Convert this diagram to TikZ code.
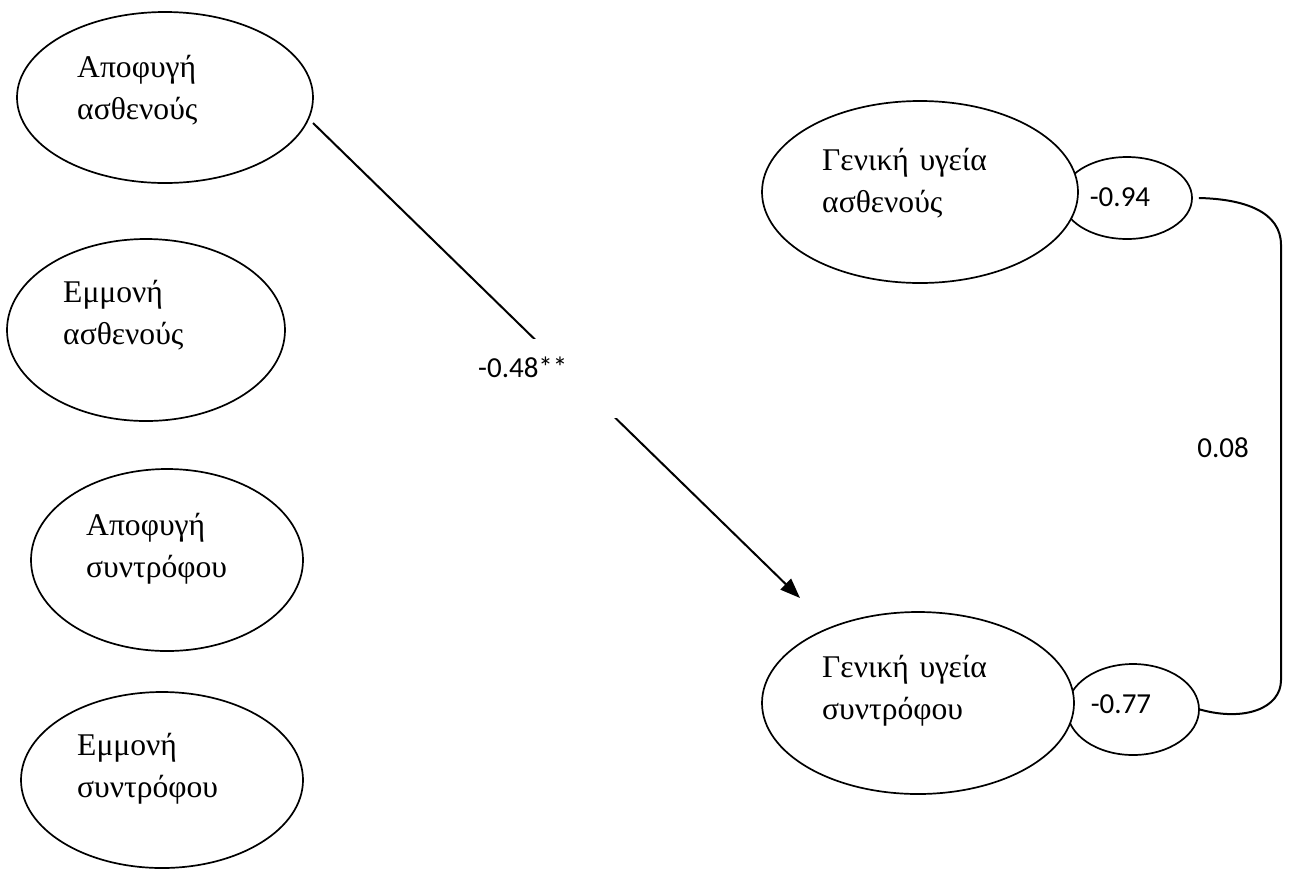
\documentclass[tikz,border=0pt]{standalone}
\usepackage{fontspec}
\setmainfont{Liberation Serif}
\newfontfamily\labelfont{Carlito}
\usetikzlibrary{arrows.meta,shapes.geometric}
\begin{document}
\begin{tikzpicture}[x=1pt,y=-1pt,
  construct/.style={shape=ellipse, draw, line width=1.7pt, fill=white, inner sep=0pt},
  resid/.style={shape=ellipse, draw, line width=1.7pt, fill=white, inner sep=0pt},
  ctext/.style={anchor=base west, inner sep=0pt, text width=220pt, align=left,
    font=\fontsize{31.6}{42}\selectfont},
  num/.style={inner sep=0pt, font=\labelfont\fontsize{29}{34}\selectfont},
  path/.style={line width=2pt, -{Triangle[length=20pt,width=15pt]}},
  link/.style={line width=2pt}
]
\useasboundingbox (0,0) rectangle (1289,871);

% latent variables on the left
\node[construct, minimum width=296pt, minimum height=171pt] (avP) at (165,97.5) {};
\node[construct, minimum width=278pt, minimum height=182pt] (anP) at (146,330) {};
\node[construct, minimum width=272pt, minimum height=182pt] (avS) at (167,560) {};
\node[construct, minimum width=282pt, minimum height=176pt] (anS) at (162,780) {};

% residual terms, drawn first so the outcome ellipses cover them
\node[resid, minimum width=130pt, minimum height=82pt] (rP) at (1127,198) {};
\node[resid, minimum width=132pt, minimum height=91pt] (rS) at (1133,709.5) {};

% outcome variables on the right
\node[construct, minimum width=316pt, minimum height=182pt] (ghP) at (920,192) {};
\node[construct, minimum width=312pt, minimum height=182pt] (ghS) at (918,703) {};

% labels inside the ellipses
\node[ctext] (tavP) at (77,77) {Αποφυγή\\ασθενούς};
\node[ctext] (tanP) at (63,302) {Εμμονή\\ασθενούς};
\node[ctext] (tavS) at (86,535) {Αποφυγή\\συντρόφου};
\node[ctext] (tanS) at (77,755) {Εμμονή\\συντρόφου};
\node[ctext] (tghP) at (822,170) {Γενική υγεία\\ασθενούς};
\node[ctext] (tghS) at (822,677) {Γενική υγεία\\συντρόφου};

\node[num, anchor=base] (nrP) at (1120,206) {-0.94};
\node[num, anchor=base] (nrS) at (1121,713) {-0.77};

% regression path with its coefficient
\coordinate (pathStart) at (313,123);
\coordinate (pathEnd) at (800,598);
\draw[path] (pathStart) -- (pathEnd);
\node[fill=white, inner sep=0pt, minimum width=152pt, minimum height=79pt] (coefBox) at (546,378.5) {};
\node[num, anchor=base west] (coef) at (478,377) {-0.48**};

% covariance between the residuals
\draw[link] ([xshift=6pt]rP.east) .. controls (1245,199) and (1281,212) .. (1281,245)
  -- (1281,680) .. controls (1281,708) and (1245,722) .. (rS.east);
\node[num, anchor=base] (cov) at (1223,457) {0.08};
\end{tikzpicture}
\end{document}
